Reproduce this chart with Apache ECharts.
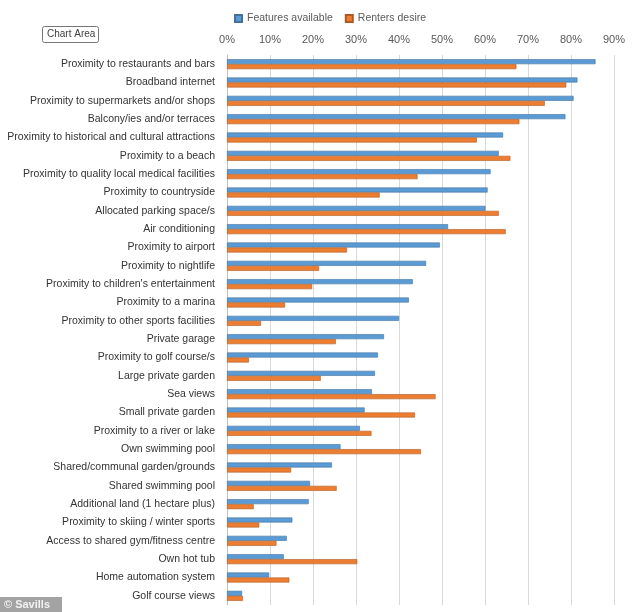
<!DOCTYPE html>
<html><head><meta charset="utf-8">
<script src="https://cdn.jsdelivr.net/npm/echarts@6/dist/echarts.min.js"></script>
<style>html,body{margin:0;padding:0;background:#fff}#c{width:634px;height:612px}</style>
</head><body><div id="c"></div>
<script>
const categories = [
"Proximity to restaurants and bars","Broadband internet","Proximity to supermarkets and/or shops","Balcony/ies and/or terraces","Proximity to historical and cultural attractions","Proximity to a beach","Proximity to quality local medical facilities","Proximity to countryside","Allocated parking space/s","Air conditioning","Proximity to airport","Proximity to nightlife","Proximity to children's entertainment","Proximity to a marina","Proximity to other sports facilities","Private garage","Proximity to golf course/s","Large private garden","Sea views","Small private garden","Proximity to a river or lake","Own swimming pool","Shared/communal garden/grounds","Shared swimming pool","Additional land (1 hectare plus)","Proximity to skiing / winter sports","Access to shared gym/fitness centre","Own hot tub","Home automation system","Golf course views"];
const featuresAvailable = [85.7,81.5,80.6,78.7,64.2,63.2,61.3,60.6,60.1,51.4,49.5,46.3,43.2,42.3,40.0,36.5,35.1,34.4,33.7,32.0,30.9,26.4,24.4,19.3,19.0,15.2,13.9,13.2,9.8,3.5];
const rentersDesire = [67.3,78.9,73.9,68.0,58.1,65.9,44.3,35.5,63.2,64.8,27.9,21.4,19.8,13.5,7.9,25.3,5.1,21.8,48.5,43.7,33.6,45.1,14.9,25.5,6.2,7.5,11.5,30.3,14.5,3.7];
const xTicks = [0,10,20,30,40,50,60,70,80,90];

const FONT = "Liberation Sans";
const chart = echarts.init(document.getElementById('c'));
chart.setOption({
  animation:false,
  textStyle:{fontFamily:FONT},
  legend:{top:8,left:229,itemWidth:7,itemHeight:7,itemGap:12,
    textStyle:{fontSize:10.5,color:'#595959',fontFamily:FONT},
    data:[{name:'Features available',icon:'rect'},{name:'Renters desire',icon:'rect'}]},
  grid:{left:227,right:20,top:55,bottom:7,containLabel:false},
  xAxis:{type:'value',position:'top',min:xTicks[0],max:xTicks[xTicks.length-1],interval:10,
    axisLabel:{formatter:v=>v+'%',color:'#595959',fontSize:11,margin:10},
    axisLine:{show:false},axisTick:{show:false},
    splitLine:{lineStyle:{color:'#d9d9d9'}}},
  yAxis:{type:'category',data:categories,inverse:true,
    axisLabel:{color:'#333333',fontSize:10.5,margin:12},
    axisLine:{lineStyle:{color:'#bfbfbf'}},axisTick:{show:false}},
  series:[
    {name:'Features available',type:'bar',data:featuresAvailable,barWidth:5,barGap:'0%',
     itemStyle:{color:'#5B9BD5',borderColor:'#41719C',borderWidth:0.6}},
    {name:'Renters desire',type:'bar',data:rentersDesire,barWidth:5,barGap:'0%',
     itemStyle:{color:'#ED7D31',borderColor:'#AE5A21',borderWidth:0.6}}
  ],
  graphic:[
    {type:'rect',left:42,top:26,shape:{width:56,height:16,r:2},style:{fill:'#fff',stroke:'#767676',lineWidth:1}},
    {type:'text',left:47,top:29,style:{text:'Chart Area',fontSize:10,fill:'#404040',fontFamily:FONT}},
    {type:'rect',left:0,top:597,shape:{width:62,height:15},style:{fill:'#a3a3a3'}},
    {type:'text',left:4,top:599,style:{text:'© Savills',fontSize:11,fontWeight:'bold',fill:'#f2f2f2',fontFamily:FONT}}
  ]
});
</script></body></html>
